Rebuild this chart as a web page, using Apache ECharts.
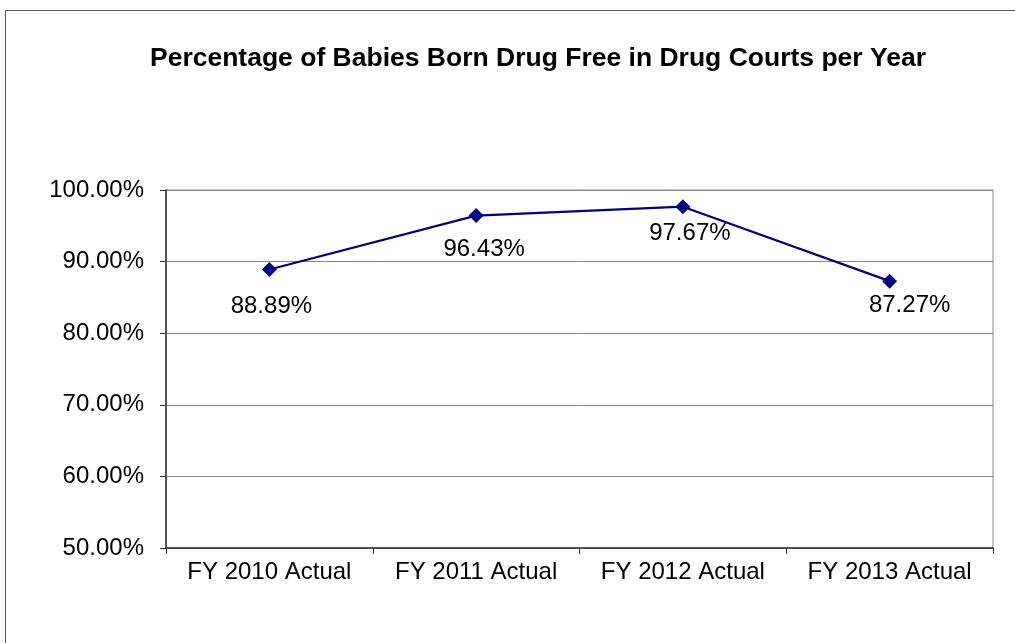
<!DOCTYPE html>
<html>
<head>
<meta charset="utf-8">
<script src="https://cdn.jsdelivr.net/npm/echarts@6/dist/echarts.min.js"></script>
<style>
html,body{margin:0;padding:0;background:#fff;}
#chart{width:1015px;height:643px;}
</style>
</head>
<body>
<div id="chart"></div>
<script>
const titleText = "Percentage of Babies Born Drug Free in Drug Courts per Year";
const categories = ["FY 2010 Actual", "FY 2011 Actual", "FY 2012 Actual", "FY 2013 Actual"];
const values = [88.89, 96.43, 97.67, 87.27];
const yMin = 50, yMax = 100, yInterval = 10;

// label placement offsets relative to each point (styling)
const labelOffsets = [[2, 37], [8, 34], [7, 27], [20, 24]];

const chart = echarts.init(document.getElementById('chart'), null, {renderer: 'canvas'});
const font = '"Liberation Sans", Arial, sans-serif';

chart.setOption({
  animation: false,
  backgroundColor: '#fff',
  title: {
    text: titleText,
    left: 533, top: 54, textAlign: 'center', textVerticalAlign: 'middle',
    textStyle: {fontFamily: font, fontWeight: 'bold', fontSize: 26.5, color: '#000'}
  },
  graphic: [{
    type: 'rect', z: 100,
    shape: {x: 5.5, y: 10.5, width: 1200, height: 1000},
    style: {fill: 'none', stroke: '#555', lineWidth: 1}
  }],
  grid: {
    left: 166, right: 22, top: 190, bottom: 95,
    show: true, borderColor: '#888', borderWidth: 1, backgroundColor: 'transparent'
  },
  xAxis: {
    type: 'category', data: categories, boundaryGap: true,
    axisLine: {lineStyle: {color: '#333', width: 1.5}},
    axisTick: {show: true, interval: 0, length: 6, alignWithLabel: false, lineStyle: {color: '#333'}},
    axisLabel: {interval: 0, fontFamily: font, fontSize: 24, color: '#000', margin: 12},
    splitLine: {show: false}
  },
  yAxis: {
    type: 'value', min: yMin, max: yMax, interval: yInterval,
    axisLine: {show: true, lineStyle: {color: '#333', width: 1.5}},
    axisTick: {show: true, length: 6, lineStyle: {color: '#333'}},
    axisLabel: {fontFamily: font, fontSize: 24, color: '#000', margin: 22,
      formatter: v => v.toFixed(2) + '%'},
    splitLine: {show: true, lineStyle: {color: '#888', width: 1}}
  },
  series: [{
    type: 'line',
    data: values.map((v, i) => ({
      value: v,
      label: {offset: labelOffsets[i]}
    })),
    symbol: 'diamond', symbolSize: 15,
    lineStyle: {color: '#000080', width: 2.2},
    itemStyle: {color: '#000080'},
    label: {
      show: true, position: 'inside',
      fontFamily: font, fontSize: 24, color: '#000',
      formatter: p => p.value.toFixed(2) + '%'
    }
  }]
});
</script>
</body>
</html>
